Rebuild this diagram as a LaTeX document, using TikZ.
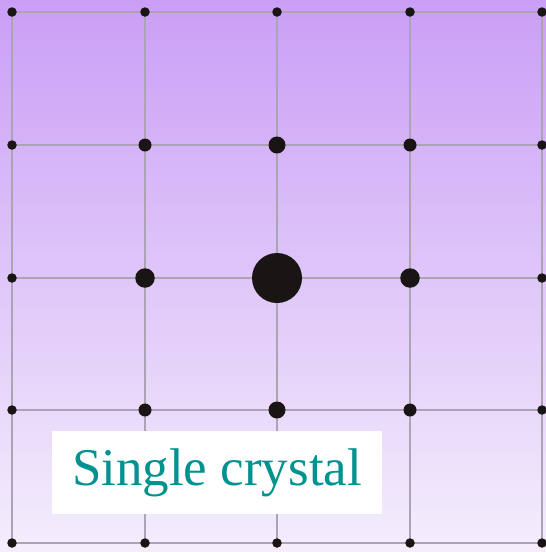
\documentclass[tikz,border=0pt]{standalone}
\usepackage{fontspec}
\setmainfont{Liberation Serif}
\begin{document}
\begin{tikzpicture}[x=1pt,y=-1pt,
  gridline/.style={draw=gridgray,line width=1.8pt},
  atom/.style={circle,fill=atomblack,inner sep=0pt,minimum size=#1},
  atom/.default=9pt,
  labelbox/.style={fill=white,inner sep=0pt,minimum width=330pt,minimum height=83pt,text=labelteal,font=\fontsize{53}{60}\selectfont}]
\definecolor{topc}{HTML}{CA9EF6}
\definecolor{botc}{HTML}{F4EEFC}
\definecolor{gridgray}{HTML}{ACA4B4}
\definecolor{atomblack}{HTML}{1A1515}
\definecolor{labelteal}{HTML}{00928F}
\useasboundingbox (0,0) rectangle (546,552);
\shade[top color=topc,bottom color=botc] (0,0) rectangle (546,552);
% grid coordinates
\def\xs{{12,145,277,410,542}}
\def\ys{{12,145,278,410,543}}
\foreach \i in {0,...,4}{
  \foreach \j in {0,...,4}{
    \pgfmathsetmacro\xx{\xs[\i]}
    \pgfmathsetmacro\yy{\ys[\j]}
    \coordinate (p-\i-\j) at (\xx,\yy);
  }
}
\foreach \k in {0,...,4}{
  \draw[gridline] (p-0-\k) -- (p-4-\k);
  \draw[gridline] (p-\k-0) -- (p-\k-4);
}
% atoms
\foreach \i in {0,...,4}{
  \foreach \j in {0,...,4}{
    \node[atom=9.5pt] (a-\i-\j) at (p-\i-\j) {};
  }
}
\foreach \i/\j in {1/1,3/1,1/3,3/3}{
  \node[atom=13pt] (b-\i-\j) at (p-\i-\j) {};
}
\node[atom=17pt] (c-2-1) at (p-2-1) {};
\node[atom=17pt] (c-2-3) at (p-2-3) {};
\node[atom=19.5pt] (c-1-2) at (p-1-2) {};
\node[atom=19.5pt] (c-3-2) at (p-3-2) {};
\node[atom=50pt] (center) at (p-2-2) {};
% label
\node[labelbox] (label) at (217,472.5) {Single crystal};
\end{tikzpicture}
\end{document}
